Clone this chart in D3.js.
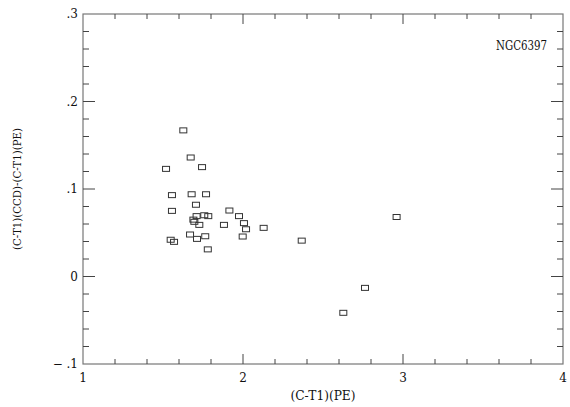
<!DOCTYPE html>
<html>
<head>
<meta charset="utf-8">
<script src="https://cdn.jsdelivr.net/npm/d3@7"></script>
<style>
  body { margin: 0; background: #fff; }
  text { font-family: "DejaVu Serif", "Liberation Serif", serif; fill: #111; }
</style>
</head>
<body>
<script>
// (C-T1)(PE) colour of each star
var ctPE = [1.627, 1.673, 1.519, 1.744, 1.556, 1.679, 1.769, 1.706, 1.556, 1.71,
  1.758, 1.783, 1.69, 1.696, 1.727, 1.669, 1.7125, 1.764, 1.548, 1.569,
  1.78, 1.915, 1.975, 1.881, 2.006, 2.019, 2.129, 1.998, 2.96, 2.367,
  2.7625, 2.627];
// (C-T1)(CCD) - (C-T1)(PE) difference
var diff = [0.167, 0.136, 0.123, 0.125, 0.093, 0.094, 0.094, 0.082, 0.075, 0.069,
  0.070, 0.069, 0.065, 0.0625, 0.059, 0.048, 0.043, 0.046, 0.042, 0.0396,
  0.031, 0.0754, 0.069, 0.059, 0.061, 0.054, 0.0556, 0.0457, 0.068, 0.041,
  -0.013, -0.0415];

var xTicks = [1, 2, 3, 4];
var xTickLabels = ["1", "2", "3", "4"];
var yTicks = [-0.1, 0, 0.1, 0.2, 0.3];
var yTickLabels = ["\u2212 .1", "0", ".1", ".2", ".3"];
var clusterName = "NGC6397";
var xTitle = "(C-T1)(PE)";
var yTitle = "(C-T1)(CCD)-(C-T1)(PE)";

var W = 570, H = 407;
var margin = { top: 14, right: 7, bottom: 43, left: 83 };
var width = W - margin.left - margin.right,
  height = H - margin.top - margin.bottom;

var svg = d3.select("body").append("svg")
  .attr("width", W)
  .attr("height", H);

var x = d3.scaleLinear().domain([1, 4]).range([0, width]);
var y = d3.scaleLinear().domain([-0.1, 0.3]).range([height, 0]);

var g = svg.append("g")
  .attr("transform", "translate(" + margin.left + "," + margin.top + ")");

// frame
g.append("rect")
  .attr("width", width)
  .attr("height", height)
  .attr("fill", "none")
  .attr("stroke", "#777")
  .attr("stroke-width", 1.2);

// minor tick positions
var xMinor = d3.range(0, 16).map(function (i) { return 1 + i * 0.2; })
  .filter(function (v) { return Math.abs(v - Math.round(v)) > 1e-6; });
var yMinor = d3.range(0, 21).map(function (i) { return -0.1 + i * 0.02; })
  .filter(function (v) { return Math.abs(v * 10 - Math.round(v * 10)) > 1e-6; });

var tickColor = "#444";

// bottom + top ticks
function xTick(vals, len) {
  g.selectAll(null).data(vals).enter().append("line")
    .attr("x1", function (d) { return x(d); }).attr("x2", function (d) { return x(d); })
    .attr("y1", height).attr("y2", height - len)
    .attr("stroke", tickColor);
  g.selectAll(null).data(vals).enter().append("line")
    .attr("x1", function (d) { return x(d); }).attr("x2", function (d) { return x(d); })
    .attr("y1", 0).attr("y2", len)
    .attr("stroke", tickColor);
}
// left + right ticks
function yTick(vals, len) {
  g.selectAll(null).data(vals).enter().append("line")
    .attr("y1", function (d) { return y(d); }).attr("y2", function (d) { return y(d); })
    .attr("x1", 0).attr("x2", len)
    .attr("stroke", tickColor);
  g.selectAll(null).data(vals).enter().append("line")
    .attr("y1", function (d) { return y(d); }).attr("y2", function (d) { return y(d); })
    .attr("x1", width).attr("x2", width - len)
    .attr("stroke", tickColor);
}
xTick(xTicks.slice(1, -1), 10);
xTick(xMinor, 5);
yTick(yTicks.slice(1, -1), 12);
yTick(yMinor, 6);

// tick labels
g.selectAll(".xlab").data(xTicks).enter().append("text")
  .attr("class", "xlab")
  .attr("x", function (d) { return x(d); })
  .attr("y", height + 18)
  .attr("text-anchor", "middle")
  .attr("font-size", 12)
  .text(function (d, i) { return xTickLabels[i]; });

g.selectAll(".ylab").data(yTicks).enter().append("text")
  .attr("class", "ylab")
  .attr("x", -5)
  .attr("y", function (d) { return y(d); })
  .attr("dy", "0.35em")
  .attr("text-anchor", "end")
  .attr("font-size", 12)
  .text(function (d, i) { return yTickLabels[i]; });

// axis titles
svg.append("text")
  .attr("x", margin.left + width / 2)
  .attr("y", 400)
  .attr("text-anchor", "middle")
  .attr("font-size", 12)
  .attr("textLength", 65)
  .attr("lengthAdjust", "spacingAndGlyphs")
  .text(xTitle);

svg.append("text")
  .attr("transform", "translate(21," + (margin.top + height / 2) + ") rotate(-90)")
  .attr("text-anchor", "middle")
  .attr("font-size", 11.5)
  .attr("textLength", 122)
  .attr("lengthAdjust", "spacingAndGlyphs")
  .text(yTitle);

// cluster name
g.append("text")
  .attr("x", x(3.9))
  .attr("y", y(0.264))
  .attr("dy", "0.35em")
  .attr("text-anchor", "end")
  .attr("font-size", 12)
  .attr("textLength", 51)
  .attr("lengthAdjust", "spacingAndGlyphs")
  .text(clusterName);

// points as open rectangles
var bw = 7, bh = 5;
g.selectAll(".pt").data(ctPE).enter().append("rect")
  .attr("class", "pt")
  .attr("x", function (d) { return x(d) - bw / 2; })
  .attr("y", function (d, i) { return y(diff[i]) - bh / 2; })
  .attr("width", bw)
  .attr("height", bh)
  .attr("fill", "none")
  .attr("stroke", "#333")
  .attr("stroke-width", 1);
</script>
</body>
</html>
